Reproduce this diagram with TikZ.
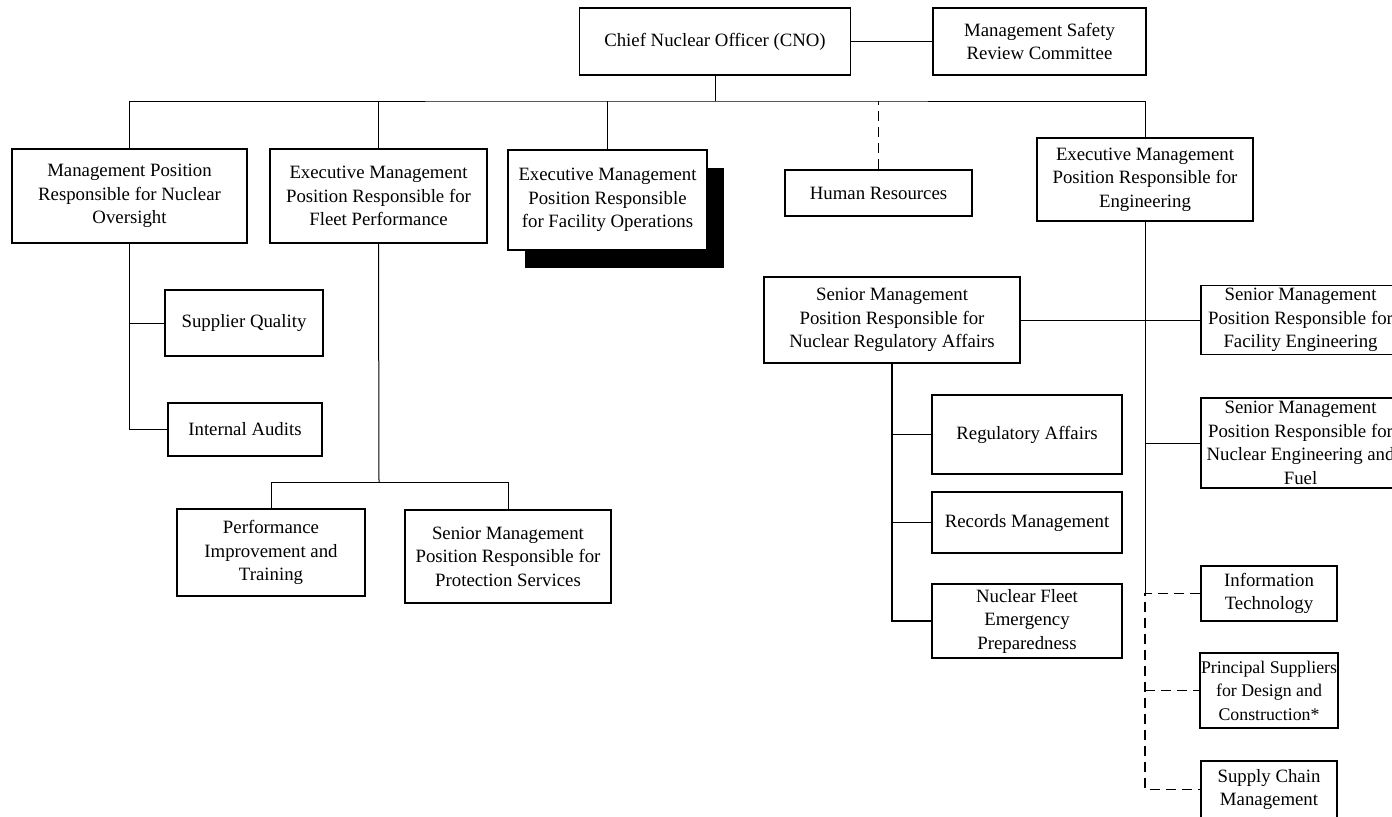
\documentclass[tikz,border=0pt]{standalone}
\usepackage{fontspec}
\setmainfont{Liberation Serif}
\usetikzlibrary{shadows}

\tikzset{
    unit/.style={draw, line width=0.65pt, align=center, inner sep=1pt, font=\fontsize{9.4}{11.75}\selectfont},
    link/.style={line width=0.5pt},
    dotlink/.style={line width=0.55pt, dash pattern=on 5pt off 3pt}
}

\begin{document}
\begin{tikzpicture}[x=0.5pt, y=-0.5pt]
    \useasboundingbox (0,0) rectangle (1392,816);
    \clip (0,0) rectangle (1392,816);

    % Top level
    \node[unit, minimum width=135.5pt, minimum height=33.5pt] (cno) at (715,41.5) {Chief Nuclear Officer (CNO)};
    \node[unit, minimum width=106.5pt, minimum height=33.5pt] (msrc) at (1039.5,41.5) {Management Safety\\Review Committee};
    \coordinate (bus) at (715,101);

    % Second level
    \node[unit, minimum width=117.5pt, minimum height=47pt] (oversight) at (129.5,196) {Management Position\\Responsible for Nuclear\\Oversight};
    \node[unit, minimum width=108.5pt, minimum height=47pt] (fleet) at (378.5,196) {Executive Management\\Position Responsible for\\Fleet Performance};
    \node[unit, minimum width=99.5pt, minimum height=50pt, fill=white,
          drop shadow={shadow xshift=8.5pt, shadow yshift=-9pt, fill=black, opacity=1}] (facops) at (607.5,200) {Executive Management\\Position Responsible\\for Facility Operations};
    \node[unit, minimum width=93.5pt, minimum height=23pt] (hr) at (878.5,193) {Human Resources};
    \node[unit, minimum width=108pt, minimum height=41.5pt] (eng) at (1145,179.5) {Executive Management\\Position Responsible for\\Engineering};

    % Oversight and fleet groups
    \node[unit, minimum width=79pt, minimum height=33pt] (supplier) at (244,323) {Supplier Quality};
    \node[unit, minimum width=77pt, minimum height=26.5pt] (audits) at (245,429.5) {Internal Audits};
    \node[unit, minimum width=94pt, minimum height=43.5pt] (perf) at (271,552.5) {Performance\\Improvement and\\Training};
    \node[unit, minimum width=103pt, minimum height=46.5pt] (protect) at (508,556.5) {Senior Management\\Position Responsible for\\Protection Services};
    \coordinate (fbus) at (379,482);

    % Regulatory group
    \node[unit, minimum width=128pt, minimum height=43pt] (nra) at (892,320) {Senior Management\\Position Responsible for\\Nuclear Regulatory Affairs};
    \node[unit, minimum width=95pt, minimum height=39.5pt] (regaff) at (1027,434.5) {Regulatory Affairs};
    \node[unit, minimum width=95pt, minimum height=30.5pt] (records) at (1027,522.5) {Records Management};
    \node[unit, minimum width=95pt, minimum height=37pt] (emerg) at (1027,621) {Nuclear Fleet\\Emergency\\Preparedness};

    % Engineering group
    \node[unit, minimum width=99.5pt, minimum height=34.5pt] (faceng) at (1300.5,320) {Senior Management\\Position Responsible for\\Facility Engineering};
    \node[unit, minimum width=99.5pt, minimum height=45pt] (nuceng) at (1300.5,443) {Senior Management\\Position Responsible for\\Nuclear Engineering and\\Fuel};
    \node[unit, minimum width=68pt, minimum height=27.5pt] (it) at (1269,593.5) {Information\\Technology};
    \node[unit, minimum width=68pt, minimum height=37.5pt, inner sep=0.5pt, font=\fontsize{8.9}{11.75}\selectfont] (suppliers) at (1269,690.5) {Principal Suppliers\\for Design and\\Construction*};
    \node[unit, minimum width=68pt, minimum height=28.5pt] (supply) at (1269,789.5) {Supply Chain\\Management};

    % Connectors
    \draw[link] (cno) -- (msrc);
    \draw[link] (cno) -- (bus);
    \draw[link] (oversight.north) |- (bus) -| (eng.north);
    \draw[link] (fleet.north) -- (fleet.north |- bus);
    \draw[link] (facops.north) -- (facops.north |- bus);
    \draw[dotlink] (hr.north) -- (hr.north |- bus);

    \draw[link] (oversight.south) |- (audits.west);
    \draw[link] (oversight.south |- supplier.west) -- (supplier.west);
    \draw[link] (fleet.south) -- (fbus);
    \draw[link] (perf.north) |- (fbus) -| (protect.north);

    \draw[link] (nra) -- (faceng);
    \draw[line width=0.8pt] (nra.south) |- (emerg.west);
    \draw[line width=0.8pt] (nra.south |- regaff.west) -- (regaff.west);
    \draw[link] (nra.south |- records.west) -- (records.west);

    \draw[link] (eng.south) -- (eng.south |- it.west);
    \draw[link] (eng.south |- nuceng.west) -- (nuceng.west);
    \draw[dotlink] (it.west) -| (eng.south |- it.west) |- (supply.west);
    \draw[dotlink] (eng.south |- suppliers.west) -- (suppliers.west);
\end{tikzpicture}
\end{document}
